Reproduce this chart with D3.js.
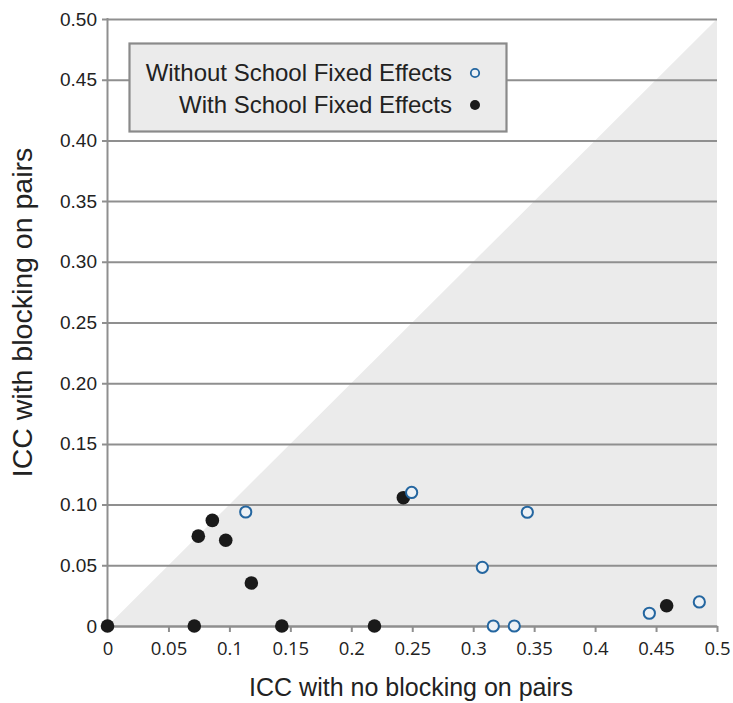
<!DOCTYPE html>
<html><head><meta charset="utf-8">
<script src="https://cdn.jsdelivr.net/npm/d3@7"></script>
<style>body{margin:0;background:#fff}svg{display:block}</style>
</head><body>
<svg id="c" width="733" height="703"></svg>
<script>
// Data
const withoutFE_x = [0.1134, 0.2495, 0.3444, 0.3075, 0.3165, 0.3337, 0.4445, 0.4855];
const withoutFE_y = [0.0939, 0.110, 0.0937, 0.0483, 0, 0, 0.0105, 0.0198];
const withFE_x = [0, 0.0745, 0.086, 0.097, 0.118, 0.0712, 0.143, 0.219, 0.2427, 0.4587];
const withFE_y = [0, 0.074, 0.087, 0.0706, 0.0354, 0, 0, 0, 0.1057, 0.0167];
const xTicks = [0, 0.05, 0.1, 0.15, 0.2, 0.25, 0.3, 0.35, 0.4, 0.45, 0.5];
const xTickLabels = ["0","0.05","0.1","0.15","0.2","0.25","0.3","0.35","0.4","0.45","0.5"];
const yTicks = [0, 0.05, 0.1, 0.15, 0.2, 0.25, 0.3, 0.35, 0.4, 0.45, 0.5];
const yTickLabels = ["0","0.05","0.10","0.15","0.20","0.25","0.30","0.35","0.40","0.45","0.50"];
const legendLabels = ["Without School Fixed Effects", "With School Fixed Effects"];
const xTitle = "ICC with no blocking on pairs";
const yTitle = "ICC with blocking on pairs";

const svg = d3.select("#c");
const L = 107.5, R = 717, T = 19, B = 626;
const x = d3.scaleLinear().domain([0, 0.5]).range([L, R]);
const y = d3.scaleLinear().domain([0, 0.5]).range([B, T]);
const gridCol = "#8f8f8f";
const blue = "#2466a0";
const sans = "Liberation Sans, Arial, sans-serif";

// shaded triangle below diagonal
svg.append("path")
  .attr("d", d3.line().x(d => x(d[0])).y(d => y(d[1]))([[0,0],[0.5,0.5],[0.5,0]]) + "Z")
  .attr("fill", "#ebebeb");

// y axis with gridlines
const yAxis = d3.axisLeft(y).tickValues(yTicks)
  .tickFormat((d, i) => yTickLabels[i])
  .tickSize(-(R - L)).tickPadding(6);
const gy = svg.append("g").attr("transform", `translate(${L},0)`).call(yAxis);
gy.select(".domain").remove();
gy.selectAll(".tick line").attr("x1", -5.5).attr("stroke", gridCol).attr("stroke-width", 2);
gy.selectAll(".tick text").attr("font-family", sans)
  .attr("font-size", 19).attr("fill", "#222").attr("x", -10.5);

// x axis
const xAxis = d3.axisBottom(x).tickValues(xTicks)
  .tickFormat((d, i) => xTickLabels[i]).tickSize(6).tickSizeOuter(0).tickPadding(6);
const gx = svg.append("g").attr("transform", `translate(0,${B})`).call(xAxis);
gx.select(".domain").attr("stroke", gridCol).attr("stroke-width", 2);
gx.selectAll(".tick line").attr("stroke", gridCol).attr("stroke-width", 2);
gx.selectAll(".tick text").attr("font-family", "Open Sans, sans-serif")
  .attr("font-size", 18.5).attr("fill", "#222").attr("y", 29).attr("dy", null);

// left axis line
svg.append("line").attr("x1", L).attr("x2", L).attr("y1", T - 1).attr("y2", B + 1)
  .attr("stroke", gridCol).attr("stroke-width", 2);

// points
svg.append("g").selectAll("circle").data(withFE_x.map((v, i) => [v, withFE_y[i]]))
  .join("circle").attr("cx", d => x(d[0])).attr("cy", d => y(d[1])).attr("r", 6.8)
  .attr("fill", "#1a1a1a");
svg.append("g").selectAll("circle").data(withoutFE_x.map((v, i) => [v, withoutFE_y[i]]))
  .join("circle").attr("cx", d => x(d[0])).attr("cy", d => y(d[1])).attr("r", 5.6)
  .attr("fill", "#edf1f5").attr("stroke", blue).attr("stroke-width", 2);

// legend
const lg = svg.append("g");
lg.append("rect").attr("x", 129.5).attr("y", 43.5).attr("width", 377).attr("height", 88)
  .attr("fill", "#ebebeb").attr("stroke", "#8a8a8a").attr("stroke-width", 2.2);
lg.selectAll("text").data(legendLabels).join("text")
  .attr("x", 452).attr("y", (d, i) => 81 + i * 31.5)
  .attr("text-anchor", "end").attr("font-family", sans)
  .attr("font-size", 24).attr("fill", "#222").text(d => d);
lg.append("circle").attr("cx", 475).attr("cy", 73).attr("r", 4.2)
  .attr("fill", "#edf1f5").attr("stroke", blue).attr("stroke-width", 1.8);
lg.append("circle").attr("cx", 475).attr("cy", 105).attr("r", 5)
  .attr("fill", "#1a1a1a");

// titles
svg.append("text").attr("x", 411).attr("y", 696).attr("text-anchor", "middle")
  .attr("font-family", sans).attr("font-size", 25)
  .attr("fill", "#222").text(xTitle);
svg.append("text").attr("transform", "translate(31.5,312.5) rotate(-90)").attr("text-anchor", "middle")
  .attr("font-family", sans).attr("font-size", 28.5)
  .attr("fill", "#222").text(yTitle);
</script>
</body></html>
